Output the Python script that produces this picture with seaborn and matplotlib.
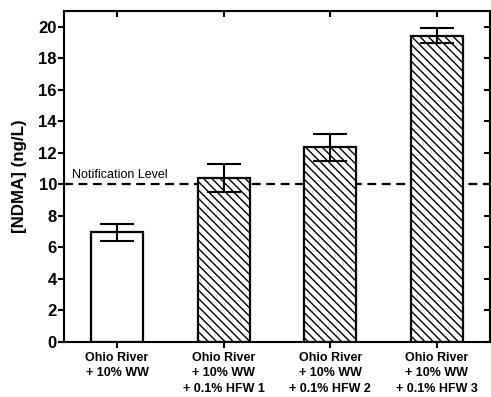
import matplotlib
matplotlib.use("Agg")
import matplotlib.pyplot as plt
import seaborn as sns
import pandas as pd

# -----------------------------
# Data
# -----------------------------
labels = ["Ohio River\n+ 10% WW",
          "Ohio River\n+ 10% WW\n+ 0.1% HFW 1",
          "Ohio River\n+ 10% WW\n+ 0.1% HFW 2",
          "Ohio River\n+ 10% WW\n+ 0.1% HFW 3"]
ndma = [6.95, 10.4, 12.35, 19.45]
err = [0.55, 0.9, 0.85, 0.5]
notification_level = 10

df = pd.DataFrame({"sample": labels, "ndma": ndma})

# -----------------------------
# Plot
# -----------------------------
sns.set_style("ticks", {"axes.edgecolor": "black", "text.color": "black",
                        "axes.labelcolor": "black", "xtick.color": "black",
                        "ytick.color": "black"})
plt.rcParams["font.family"] = ["Liberation Sans", "DejaVu Sans"]
plt.rcParams["hatch.linewidth"] = 1.0
plt.rcParams["hatch.color"] = "black"

fig = plt.figure(figsize=(4.91, 3.97), dpi=100)
ax = fig.add_axes([0.130, 0.139, 0.868, 0.833])

ax.axhline(notification_level, color="black", linestyle=(0, (4, 2.5)),
           linewidth=1.6, zorder=1)
ax.text(0.02, notification_level + 0.2, "Notification Level",
        transform=ax.get_yaxis_transform(), fontsize=9, va="bottom", ha="left")

sns.barplot(data=df, x="sample", y="ndma", color="white", width=0.49,
            edgecolor="black", linewidth=1.6, ax=ax, zorder=2)
for i, bar in enumerate(ax.patches):
    if i > 0:
        bar.set_hatch("\\\\\\\\")

ax.errorbar(range(len(ndma)), ndma, yerr=err, fmt="none", ecolor="black",
            elinewidth=1.5, capsize=12.5, capthick=1.5, zorder=3)

ax.set_xlim(-0.5, 3.5)
ax.set_ylim(0, 21)
ax.set_yticks(range(0, 21, 2))
ax.set_xlabel("")
ax.set_ylabel("[NDMA] (ng/L)", fontsize=12.2, fontweight="bold", labelpad=8)

for side in ["left", "right", "top", "bottom"]:
    ax.spines[side].set_visible(True)
    ax.spines[side].set_linewidth(1.5)

ax.tick_params(axis="both", width=1.5, length=4)
ax.tick_params(axis="x", labelsize=9, pad=3)
ax.tick_params(axis="y", labelsize=12, pad=1)
for lbl in ax.get_xticklabels():
    lbl.set_fontweight("bold")
    lbl.set_linespacing(1.4)
for lbl in ax.get_yticklabels():
    lbl.set_fontweight("bold")

# mirrored ticks point inward
sec_x = ax.secondary_xaxis("top")
sec_x.set_xticks(range(len(labels)))
sec_x.tick_params(direction="in", length=4, width=1.5, labeltop=False)
sec_y = ax.secondary_yaxis("right")
sec_y.set_yticks(range(0, 21, 2))
sec_y.tick_params(direction="in", length=4, width=1.5, labelright=False)

fig.savefig("out.png", dpi=100)
